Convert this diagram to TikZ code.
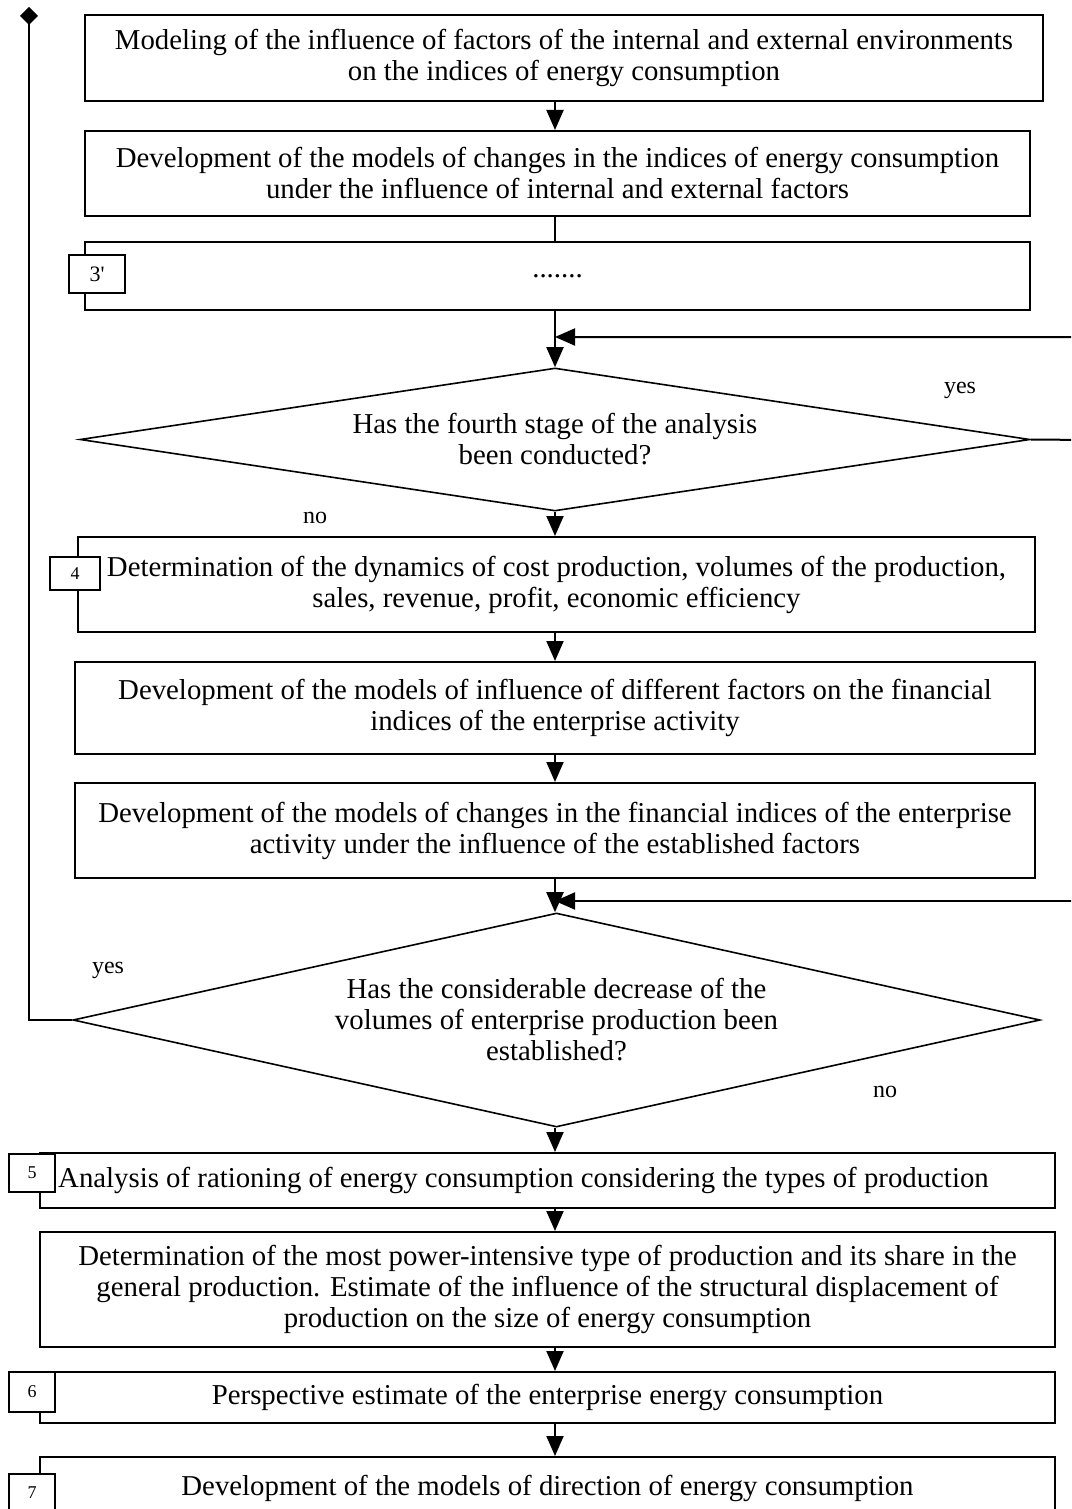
\documentclass[tikz,border=0pt]{standalone}
\usepackage{fontspec}
\setmainfont{Liberation Serif}
\usetikzlibrary{arrows.meta,shapes.geometric}
\newcommand{\fsmain}{\fontsize{14.4}{15.5}\selectfont}
\newcommand{\fslab}{\fontsize{12}{13}\selectfont}
\newcommand{\fstag}{\fontsize{9}{10}\selectfont}

\begin{document}
\begin{tikzpicture}[x=0.5pt, y=-0.5pt,
    box/.style={draw, line width=1pt, inner sep=0pt, align=center, font=\fsmain},
    tag/.style={draw, fill=white, line width=0.8pt, inner sep=0pt, font=\fstag},
    dec/.style={draw, diamond, inner sep=0pt, line width=0.8pt, align=center, font=\fsmain},
    flow/.style={-{Triangle[length=10pt, width=8.5pt]}, line width=1pt},
    lbl/.style={font=\fslab}]
    \useasboundingbox (0,0) rectangle (1071,1509);
    \clip (0,0) rectangle (1071,1509);

    % Upper stages
    \node[box, minimum width=479pt, minimum height=43pt] (m1) at (564,58)
        {Modeling of the influence of factors of the internal and external environments\\on the indices of energy consumption};
    \node[box, minimum width=472.5pt, minimum height=42.5pt] (m2) at (557.5,173.5)
        {Development of the models of changes in the indices of energy consumption\\under the influence of internal and external factors};
    \node[box, minimum width=472.5pt, minimum height=34pt] (m3) at (557.5,276) {.......};
    \node[tag, minimum width=28pt, minimum height=19pt, font=\fontsize{11}{12}\selectfont] (t3) at (97,274) {3\textquotesingle};

    % First decision
    \node[dec, minimum width=475pt, minimum height=71.5pt, shape aspect=6.6] (dia1) at (555,439.5)
        {Has the fourth stage of the analysis\\been conducted?};
    \node[lbl] (yes1) at (960,390) {yes};
    \node[lbl] (no1) at (315,518) {no};

    % Financial stages
    \node[box, minimum width=478.5pt, minimum height=47.5pt] (m4) at (556.5,584.5)
        {Determination of the dynamics of cost production, volumes of the production,\\sales, revenue, profit, economic efficiency};
    \node[tag, minimum width=25pt, minimum height=16.5pt] (t4) at (75,573.5) {4};
    \node[box, minimum width=480pt, minimum height=46pt] (m5) at (555,708)
        {Development of the models of influence of different factors on the financial\\indices of the enterprise activity};
    \node[box, minimum width=480pt, minimum height=47.5pt] (m6) at (555,830.5)
        {Development of the models of changes in the financial indices of the enterprise\\activity under the influence of the established factors};

    % Second decision
    \node[dec, minimum width=483.5pt, minimum height=107pt, shape aspect=4.5] (dia2) at (556.5,1020)
        {Has the considerable decrease of the\\volumes of enterprise production been\\established?};
    \node[lbl] (yes2) at (108,970) {yes};
    \node[lbl] (no2) at (885,1092) {no};

    % Lower stages
    \node[box, minimum width=507.5pt, minimum height=27.5pt] (m7) at (547.5,1180.5)
        {Analysis of rationing of energy consumption considering the types of production\hspace*{24pt}};
    \node[tag, minimum width=23pt, minimum height=19pt] (t5) at (32,1173) {5};
    \node[box, minimum width=507.5pt, minimum height=57.5pt] (m8) at (547.5,1289.5)
        {Determination of the most power-intensive type of production and its share in the\\general production. Estimate of the influence of the structural displacement of\\production on the size of energy consumption};
    \node[box, minimum width=507.5pt, minimum height=25.5pt] (m9) at (547.5,1397.5)
        {Perspective estimate of the enterprise energy consumption};
    \node[tag, minimum width=23pt, minimum height=20pt] (t6) at (32,1392) {6};
    \node[box, minimum width=507.5pt, minimum height=31pt] (m10) at (547.5,1488)
        {Development of the models of direction of energy consumption};
    \node[tag, minimum width=23pt, minimum height=19pt] (t7) at (32,1493) {7};

    % Connectors
    \coordinate (j1) at (555,337);
    \coordinate (j2) at (555,901);
    \coordinate (r1) at (1090,440);
    \coordinate (r2) at (1090,901);
    \coordinate (mk) at (29,7);
    \draw[flow] (m1.south -| dia1) -- (m2.north -| dia1);
    \draw[line width=1pt] (m2.south -| dia1) -- (m3.north -| dia1);
    \draw[line width=1pt] (m3.south -| dia1) -- (j1);
    \draw[flow] (j1) -- (dia1.north);
    \draw[flow] (dia1.east) -- (r1) |- (j1);
    \draw[flow] (dia1.south) -- (m4.north -| dia1);
    \draw[flow] (m4.south -| dia1) -- (m5.north -| dia1);
    \draw[flow] (m5.south -| dia1) -- (m6.north -| dia1);
    \draw[line width=1pt] (m6.south -| dia1) -- (j2);
    \draw[flow] (j2) -- (dia2.north -| j2);
    \draw[flow] (r2) -- (j2);
    \draw[line width=1pt, -{Diamond[length=9pt, width=9pt]}] (dia2.west) -| (mk);
    \draw[flow] (dia2.south -| j2) -- (m7.north -| j2);
    \draw[flow] (m7.south -| j2) -- (m8.north -| j2);
    \draw[flow] (m8.south -| j2) -- (m9.north -| j2);
    \draw[flow] (m9.south -| j2) -- (m10.north -| j2);
\end{tikzpicture}
\end{document}
